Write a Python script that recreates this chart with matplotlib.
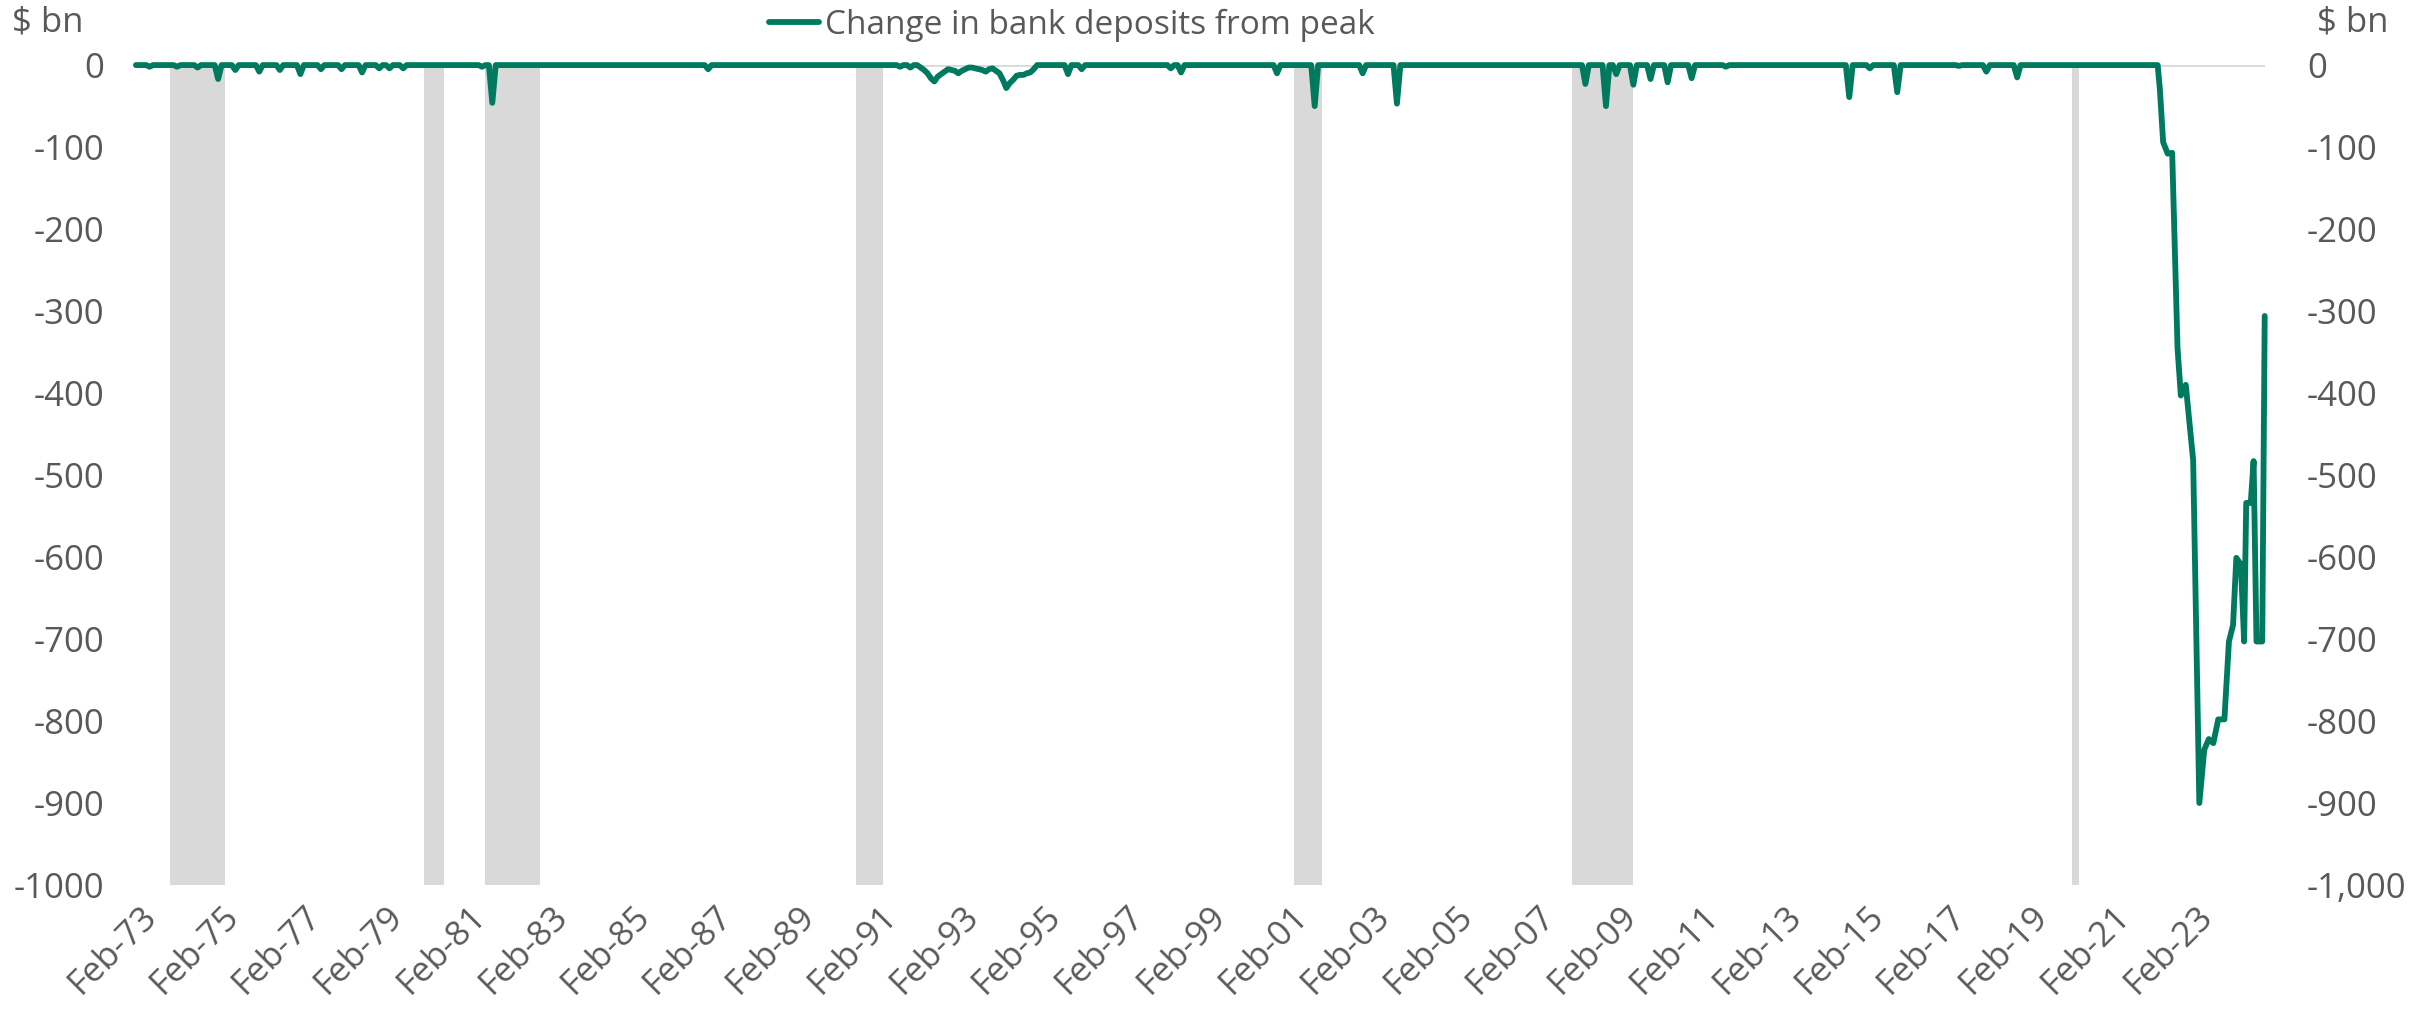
import numpy as np
import matplotlib
matplotlib.use("Agg")
import matplotlib.pyplot as plt
from matplotlib.ticker import FuncFormatter

plt.rcParams['font.family'] = ['Open Sans', 'DejaVu Sans']

# monthly series Jan-73 .. Feb-22 sits at zero except for these months
dip_months = ["1973-05", "1974-01", "1974-07", "1975-01", "1975-06", "1976-01", "1976-07",
              "1977-01", "1977-07", "1978-01", "1978-07", "1978-12", "1979-03", "1979-07",
              "1981-06", "1981-09", "1986-12",
              "1991-08", "1991-11", "1992-02", "1992-03", "1992-04", "1992-05", "1992-06",
              "1992-07", "1992-08", "1992-09", "1992-10", "1992-11", "1992-12", "1993-01",
              "1993-02", "1993-03", "1993-04", "1993-05", "1993-06", "1993-07", "1993-08",
              "1993-09", "1993-10", "1993-11", "1993-12", "1994-01", "1994-02", "1994-03",
              "1994-04", "1994-05", "1994-06", "1994-07", "1994-08", "1994-09", "1994-10",
              "1994-11", "1995-09", "1996-01", "1998-03", "1998-06",
              "2000-10", "2001-09", "2002-11", "2003-09",
              "2008-04", "2008-10", "2009-01", "2009-06", "2009-11", "2010-04", "2010-11",
              "2011-09", "2014-09", "2015-03", "2015-11", "2017-05", "2018-01", "2018-10"]
dip_values = [-2, -2, -3, -17, -6, -8, -6,
              -11, -5, -5, -9, -4, -4, -4,
              -2, -46, -5,
              -2, -3, -3, -6, -10, -16, -20,
              -14, -11, -8, -5, -6, -7, -10,
              -7, -5, -3, -3, -4, -5, -6,
              -8, -5, -4, -7, -10, -18, -28,
              -22, -18, -13, -12, -12, -10, -9,
              -5, -11, -5, -4, -9,
              -10, -50, -10, -47,
              -23, -50, -11, -24, -17, -21, -16,
              -2, -39, -4, -33, -1, -8, -15]

# 2022-24 run-off, read point by point (decimal years)
tail_years = [2022.167, 2022.22, 2022.30, 2022.41, 2022.52, 2022.65, 2022.73, 2022.85,
              2023.03, 2023.18, 2023.30, 2023.41, 2023.52, 2023.64, 2023.79, 2023.90,
              2024.00, 2024.08, 2024.19, 2024.27, 2024.32, 2024.43, 2024.50, 2024.57,
              2024.71, 2024.77]
tail_values = [0, -29, -94, -108, -107, -345, -403, -390,
               -482, -900, -835, -822, -827, -798, -798, -703,
               -683, -601, -609, -703, -534, -534, -483, -703,
               -703, -306]

recession_starts = ["1973-11", "1980-01", "1981-07", "1990-07", "2001-03", "2007-12", "2020-02"]
recession_ends = ["1975-03", "1980-07", "1982-11", "1991-03", "2001-11", "2009-06", "2020-04"]

tick_years = list(range(1973, 2024, 2))
tick_labels = ["Feb-%02d" % (y % 100) for y in tick_years]
y_ticks = list(range(0, -1001, -100))

GREEN = "#007A5E"
GREY_TXT = "#595959"
BAND = "#D9D9D9"


def to_year(s):
    y, m = s.split("-")
    return int(y) + (int(m) - 1) / 12


def build_series():
    months = np.arange(1973 * 12, 2022 * 12 + 2) / 12.0
    vals = np.zeros(len(months))
    for m, v in zip(dip_months, dip_values):
        idx = int(round((to_year(m) - 1973) * 12))
        vals[idx] = v
    x = np.concatenate([months, tail_years])
    y = np.concatenate([vals, tail_values])
    return x, y


def main():
    x, y = build_series()

    fig = plt.figure(figsize=(24.27, 10.17), dpi=100)
    ax = fig.add_axes([0.056, 0.1298, 0.8773, 0.8062])

    for s, e in zip(recession_starts, recession_ends):
        ax.axvspan(to_year(s), to_year(e), ymin=0, ymax=1, color=BAND, lw=0, zorder=1)

    ax.axhline(0, color=BAND, lw=2, zorder=2)
    ax.plot(x, y, color=GREEN, lw=4.2, solid_joinstyle='round', solid_capstyle='round',
            label='Change in bank deposits from peak', zorder=3, clip_on=False)

    ax.set_xlim(1973.0, 2024.78)
    ax.set_ylim(-1000, 0)

    ax.set_xticks([t + 1 / 12 for t in tick_years])
    ax.set_xticklabels(tick_labels, rotation=45, ha='right', va='top', rotation_mode='anchor')
    ax.set_yticks(y_ticks)
    ax.set_yticklabels([str(v) for v in y_ticks])

    ax2 = ax.twinx()
    ax2.set_ylim(-1000, 0)
    ax2.set_yticks(y_ticks)
    ax2.yaxis.set_major_formatter(FuncFormatter(lambda v, p: "{:,.0f}".format(v)))

    for a in (ax, ax2):
        for sp in a.spines.values():
            sp.set_visible(False)
    ax.tick_params(axis='x', length=0, pad=10, labelsize=25, labelcolor=GREY_TXT)
    ax.tick_params(axis='y', length=0, pad=23, labelsize=25, labelcolor=GREY_TXT)
    ax2.tick_params(axis='y', length=0, pad=30, labelsize=25, labelcolor=GREY_TXT)

    fig.text(12 / 2427, 1 - 22 / 1017, "$ bn", fontsize=25, color=GREY_TXT, ha='left', va='center')
    fig.text(2317 / 2427, 1 - 22 / 1017, "$ bn", fontsize=25, color=GREY_TXT, ha='left', va='center')

    leg = fig.legend(loc='center', bbox_to_anchor=(1072 / 2427, 1 - 25 / 1017), frameon=False,
                     fontsize=24, handlelength=1.5, handletextpad=0.2, borderpad=0)
    for t in leg.get_texts():
        t.set_color(GREY_TXT)

    fig.savefig("out.png", dpi=100)


if __name__ == '__main__':
    main()
